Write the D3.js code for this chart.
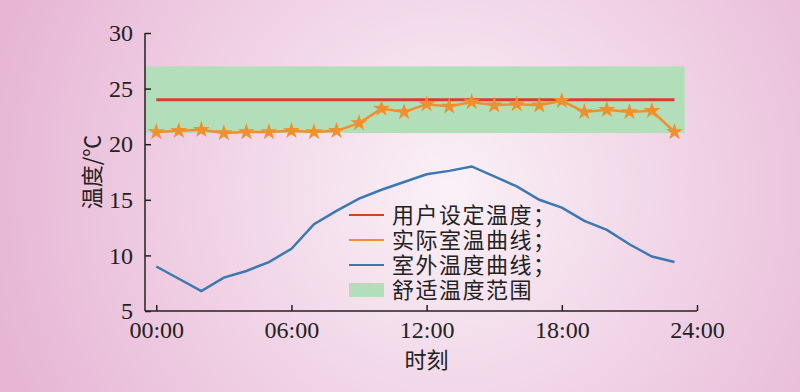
<!DOCTYPE html>
<html>
<head>
<meta charset="utf-8">
<script src="https://cdn.jsdelivr.net/npm/d3@7"></script>
<style>
  body { margin: 0; }
  svg { display: block; }
</style>
</head>
<body>
<svg width="800" height="392"></svg>
<script>
// hourly data, 00:00 .. 23:00
var hours = d3.range(0, 24);
var setTemp = 24;
var indoorTemp = [21.1, 21.2, 21.3, 21.0, 21.1, 21.1, 21.2, 21.1, 21.2, 21.9, 23.2, 22.9,
                  23.6, 23.4, 23.8, 23.5, 23.6, 23.5, 23.9, 22.9, 23.1, 22.9, 23.0, 21.1];
var outdoorTemp = [9.0, 7.9, 6.8, 8.0, 8.6, 9.4, 10.6, 12.8, 14.0, 15.1, 15.9, 16.6,
                   17.3, 17.6, 18.0, 17.1, 16.2, 15.0, 14.3, 13.1, 12.3, 11.0, 9.9, 9.4];
var comfortRange = [21, 27];
var xTicks = [0, 6, 12, 18, 24];
var xTickLabels = ["00:00", "06:00", "12:00", "18:00", "24:00"];
var yTicks = [5, 10, 15, 20, 25, 30];
var legendLabels = ["用户设定温度；", "实际室温曲线；", "室外温度曲线；", "舒适温度范围"];

var svg = d3.select("svg"),
    margin = {top: 33, right: 103, bottom: 81, left: 145},
    width = +svg.attr("width") - margin.left - margin.right,
    height = +svg.attr("height") - margin.top - margin.bottom;

// background
var defs = svg.append("defs");
var grad = defs.append("radialGradient")
    .attr("id", "bg")
    .attr("gradientUnits", "userSpaceOnUse")
    .attr("cx", 450).attr("cy", 190).attr("r", 470);
grad.append("stop").attr("offset", "0%").attr("stop-color", "#faf1f7");
grad.append("stop").attr("offset", "100%").attr("stop-color", "#e7b6d5");

svg.append("rect")
    .attr("width", 800).attr("height", 392)
    .attr("fill", "url(#bg)");

var g = svg.append("g").attr("transform", "translate(" + margin.left + "," + margin.top + ")");

// x runs from axis (-0.5 h) to 24 h
var x = d3.scaleLinear().domain([-0.5, 24]).range([0, width]);
var y = d3.scaleLinear().domain([5, 30]).range([height, 0]);

// comfort band
g.append("rect")
    .attr("x", x(-0.5))
    .attr("y", y(comfortRange[1]))
    .attr("width", x(23.45) - x(-0.5))
    .attr("height", y(comfortRange[0]) - y(comfortRange[1]))
    .attr("fill", "#b3deba");

// set temperature
g.append("line")
    .attr("x1", x(0)).attr("x2", x(23))
    .attr("y1", y(setTemp)).attr("y2", y(setTemp))
    .attr("stroke", "#dc3b2e")
    .attr("stroke-width", 3);

var line = d3.line()
    .x(function(d, i) { return x(hours[i]); })
    .y(function(d) { return y(d); });

// outdoor
g.append("path")
    .datum(outdoorTemp)
    .attr("fill", "none")
    .attr("stroke", "#3c78b4")
    .attr("stroke-width", 2.5)
    .attr("d", line);

// indoor
g.append("path")
    .datum(indoorTemp)
    .attr("fill", "none")
    .attr("stroke", "#f0902c")
    .attr("stroke-width", 2.5)
    .attr("d", line);

var star = d3.symbol().type(d3.symbolStar).size(90);
g.append("g")
  .selectAll("path")
  .data(indoorTemp)
  .enter().append("path")
    .attr("transform", function(d, i) { return "translate(" + x(hours[i]) + "," + y(d) + ")"; })
    .attr("d", star)
    .attr("fill", "#f0902c");

// axes
var yAxis = g.append("g")
    .call(d3.axisLeft(y).tickValues(yTicks).tickSizeInner(-6).tickSizeOuter(0).tickPadding(12));
var xAxis = g.append("g")
    .attr("transform", "translate(0," + height + ")")
    .call(d3.axisBottom(x).tickValues(xTicks).tickSizeInner(-6).tickSizeOuter(0).tickPadding(10)
      .tickFormat(function(d, i) { return xTickLabels[i]; }));

[yAxis, xAxis].forEach(function(a) {
  a.selectAll("path, line").attr("stroke", "#222").attr("stroke-width", 1.5);
  a.selectAll("text")
    .attr("fill", "#222")
    .attr("font-family", "Liberation Serif, serif")
    .attr("font-size", 24);
});
xAxis.select(".domain").attr("d", "M0,0H" + width);
yAxis.select(".domain").attr("d", "M0,0V" + height);

// axis titles
svg.append("text")
    .attr("transform", "translate(100,172) rotate(-90)")
    .attr("text-anchor", "middle")
    .attr("font-family", "Noto Sans CJK SC")
    .attr("font-size", 22)
    .attr("fill", "#222")
    .text("温度/℃");

svg.append("text")
    .attr("x", margin.left + x(12))
    .attr("y", 368)
    .attr("text-anchor", "middle")
    .attr("font-family", "Noto Sans CJK SC")
    .attr("font-size", 22)
    .attr("fill", "#222")
    .text("时刻");

// legend
var legendColors = ["#dc3b2e", "#f0902c", "#3c78b4", "#b3deba"];
var legend = svg.append("g")
    .attr("font-family", "Noto Sans CJK SC")
    .attr("font-size", 22)
    .attr("letter-spacing", 1.5)
  .selectAll("g")
  .data(legendLabels)
  .enter().append("g")
    .attr("transform", function(d, i) { return "translate(349," + (215 + i * 25) + ")"; });

legend.each(function(d, i) {
  var el = d3.select(this);
  if (i < 3) {
    el.append("line")
      .attr("x1", 0).attr("x2", 35)
      .attr("stroke", legendColors[i])
      .attr("stroke-width", 2);
  } else {
    el.append("rect")
      .attr("x", 0).attr("y", -7)
      .attr("width", 35).attr("height", 14)
      .attr("fill", legendColors[i]);
  }
});

legend.append("text")
    .attr("x", 43)
    .attr("dy", "0.36em")
    .attr("fill", "#222")
    .text(function(d) { return d; });
</script>
</body>
</html>
